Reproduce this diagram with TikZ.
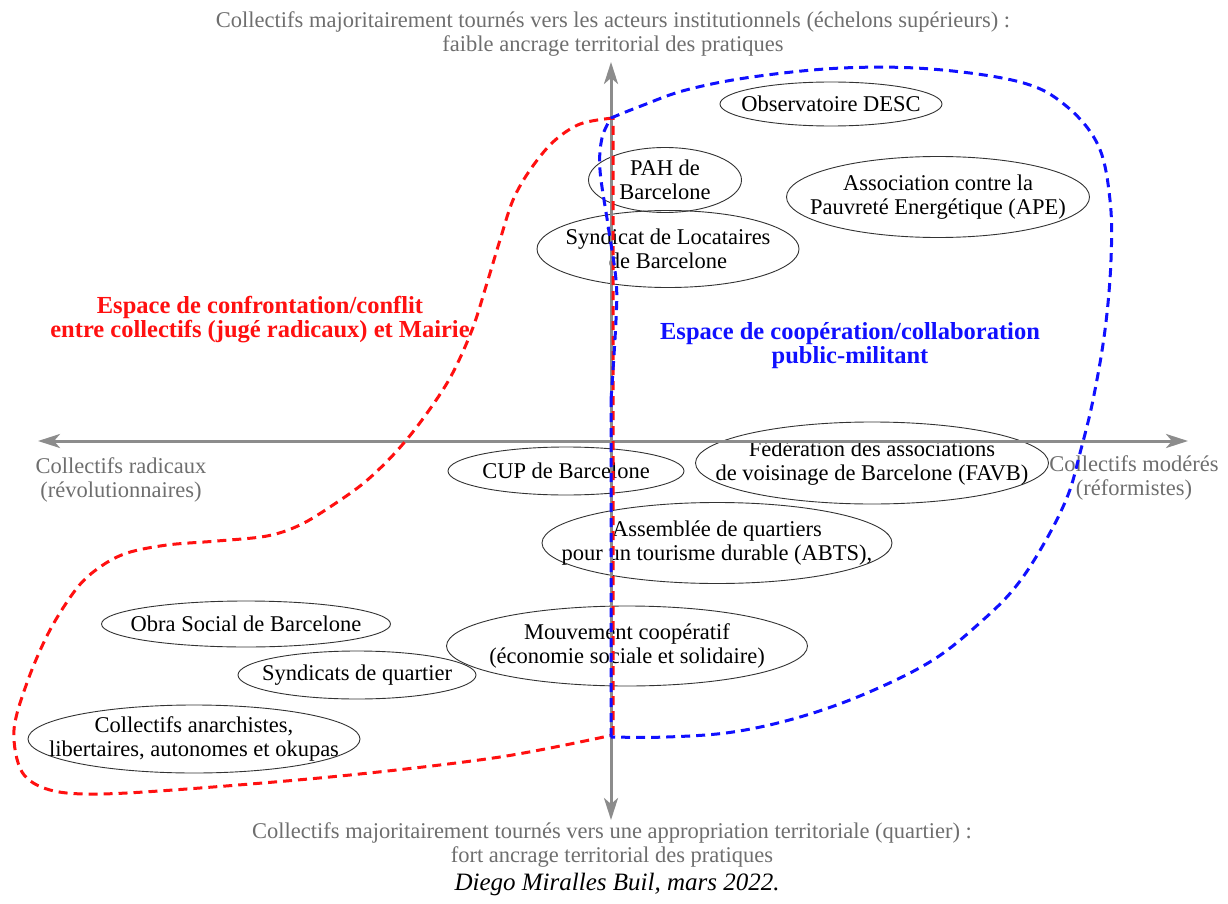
\documentclass[tikz,border=0pt]{standalone}
\usepackage{fontspec}
\setmainfont{Liberation Serif}
\usetikzlibrary{shapes.geometric, arrows.meta, positioning}
\definecolor{AxisGray}{HTML}{8C8C8C}
\definecolor{LabelGray}{HTML}{6E6E6E}
\definecolor{OutlineColor}{HTML}{333333}
\definecolor{ConflictRed}{HTML}{FF1010}
\definecolor{CoopBlue}{HTML}{1010FF}
\begin{document}
\begin{tikzpicture}[
        x=1pt, y=-1pt,
        org/.style={ellipse, draw=OutlineColor, line width=0.9pt, inner sep=0pt},
        orgtext/.style={align=center, inner sep=0pt, font=\fontsize{22.5}{24}\selectfont, text=black},
        axislabel/.style={align=center, font=\fontsize{22.5}{23.5}\selectfont, text=LabelGray},
        zonelabel/.style={align=center, font=\fontsize{24.5}{24}\selectfont\bfseries},
        axis/.style={{Stealth[length=22pt, width=14pt, inset=6pt]}-{Stealth[length=22pt, width=14pt, inset=6pt]}, line width=3pt, AxisGray},
        zone/.style={line width=3pt, dash pattern=on 9pt off 6pt}
      ]
        \useasboundingbox (0,0) rectangle (1228,904);

        % Nodes
        \node[org, minimum width=222pt, minimum height=44pt] (desc) at (831,104) {};
        \node[orgtext] (descText) at (desc) {Observatoire DESC};
        \node[org, minimum width=153pt, minimum height=65pt] (pah) at (665,180) {};
        \node[orgtext] (pahText) at (pah) {PAH de\\Barcelone};
        \node[org, minimum width=303pt, minimum height=81pt] (ape) at (938,197) {};
        \node[orgtext] (apeText) at (ape) {Association contre la\\Pauvreté Energétique (APE)};
        \node[org, minimum width=262pt, minimum height=77pt] (locataires) at (668,249) {};
        \node[orgtext] (locatairesText) at (locataires) {Syndicat de Locataires\\de Barcelone};
        \node[org, minimum width=236pt, minimum height=48pt] (cup) at (566,471) {};
        \node[orgtext] (cupText) at (cup) {CUP de Barcelone};
        \node[org, minimum width=353pt, minimum height=82pt] (favb) at (872,463) {};
        \node[orgtext] (favbText) at (favb) {Fédération des associations\\de voisinage de Barcelone (FAVB)};
        \node[org, minimum width=350pt, minimum height=81pt] (abts) at (717,543) {};
        \node[orgtext] (abtsText) at (abts) {Assemblée de quartiers\\pour un tourisme durable (ABTS),};
        \node[org, minimum width=289pt, minimum height=46pt] (obra) at (246,624) {};
        \node[orgtext] (obraText) at (obra) {Obra Social de Barcelone};
        \node[org, minimum width=238pt, minimum height=48pt] (quartier) at (357,675) {};
        \node[orgtext] (quartierText) at (quartier) {Syndicats de quartier};
        \node[org, minimum width=361pt, minimum height=80pt] (coop) at (627,646) {};
        \node[orgtext] (coopText) at (coop) {Mouvement coopératif\\(économie sociale et solidaire)};
        \node[org, minimum width=332pt, minimum height=68pt] (anarch) at (194,739) {};
        \node[orgtext] (anarchText) at (anarch) {Collectifs anarchistes,\\libertaires, autonomes et okupas};

        % Axes
        \coordinate (axisTop) at (611,62);
        \coordinate (axisBottom) at (611,820);
        \coordinate (axisLeft) at (38,441);
        \coordinate (axisRight) at (1188,441);
        \draw[axis] (axisBottom) -- (axisTop);
        \draw[axis] (axisLeft) -- (axisRight);

        \node[axislabel] (topLabel) at (613,34) {Collectifs majoritairement tournés vers les acteurs institutionnels (échelons supérieurs) :\\faible ancrage territorial des pratiques};
        \node[axislabel] (bottomLabel) at (612,845) {Collectifs majoritairement tournés vers une appropriation territoriale (quartier) :\\fort ancrage territorial des pratiques};
        \node[axislabel] (leftLabel) at (121,480) {Collectifs radicaux\\(révolutionnaires)};
        \node[axislabel] (rightLabel) at (1134,478) {Collectifs modérés\\(réformistes)};

        % Zones
        \draw[zone, ConflictRed] (613,735) -- (613,118)
          plot[smooth, tension=0.55] coordinates {(613,118) (580,124) (553,142) (530,170) (513,200) (500,240) (487,283) (472,330) (450,378) (422,420) (395,453) (365,482) (333,505) (300,525) (267,536) (217,541) (167,545) (127,553) (100,567) (77,588) (50,630) (28,680) (14,730) (22,772) (50,790) (100,794) (200,788) (350,775) (500,757) (613,735)};
        \draw[zone, CoopBlue] (611,737) -- (611,400)
          plot[smooth, tension=0.6] coordinates {(611,400) (616,320) (616,280) (608,225) (600,170) (602,138) (611,118)}
          plot[smooth, tension=0.6] coordinates {(611,118) (641,106) (686,90) (752,77) (842,68) (931,69) (1020,82) (1065,105) (1098,145) (1110,200) (1111,260) (1105,330) (1093,400) (1080,453) (1068,495) (1046,540) (1017,585) (983,620) (933,660) (867,693) (800,717) (733,732) (667,737) (611,737)};

        \node[zonelabel, ConflictRed] (conflictLabel) at (260,320) {Espace de confrontation/conflit\\entre collectifs (jugé radicaux) et Mairie};
        \node[zonelabel, CoopBlue] (coopLabel) at (850,346) {Espace de coopération/collaboration\\public-militant};

        \node[font=\fontsize{25}{26}\selectfont\itshape] (caption) at (617,884) {Diego Miralles Buil, mars 2022.};
      \end{tikzpicture}
\end{document}
